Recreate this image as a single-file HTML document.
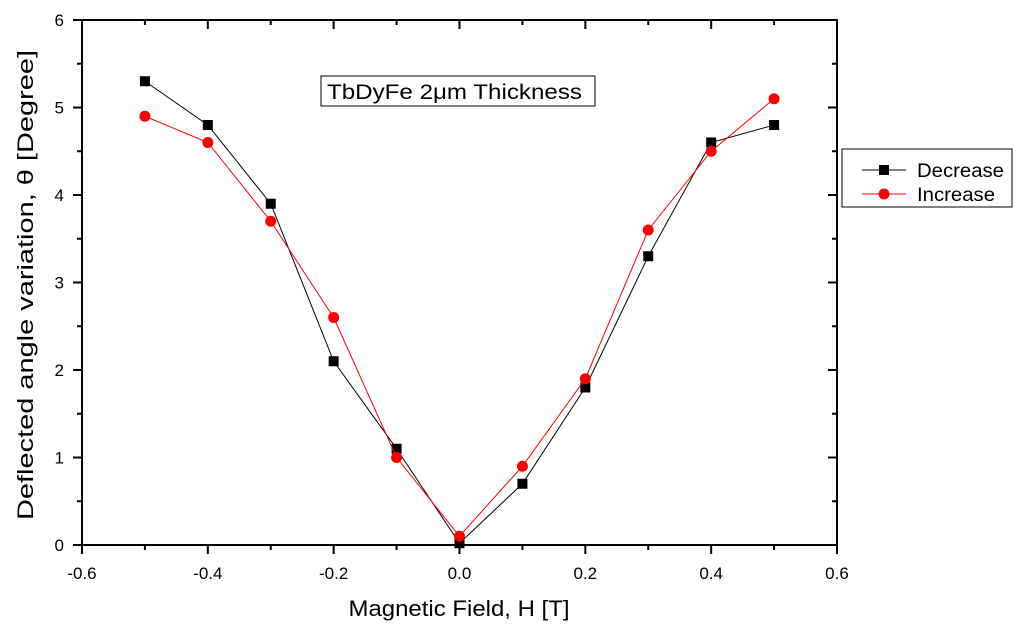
<!DOCTYPE html>
<html><head><meta charset="utf-8"><style>body{margin:0;background:#fff}svg{display:block;font-family:"Liberation Sans",sans-serif}</style></head>
<body>
<svg id="c" width="1024" height="634" viewBox="0 0 1024 634"></svg>
<script>
const xValues=[-0.5,-0.4,-0.3,-0.2,-0.1,0,0.1,0.2,0.3,0.4,0.5];
const decreaseValues=[5.3,4.8,3.9,2.1,1.1,0.02,0.7,1.8,3.3,4.6,4.8];
const increaseValues=[4.9,4.6,3.7,2.6,1.0,0.1,0.9,1.9,3.6,4.5,5.1];
const xTicks=[-0.6,-0.4,-0.2,0.0,0.2,0.4,0.6];
const yTicks=[0,1,2,3,4,5,6];
const L=82,R=837,T=20,B=545;
const xs=v=>L+(v+0.6)/1.2*(R-L);
const ys=v=>B-v/6*(B-T);
const svg=document.getElementById('c');
const NS='http://www.w3.org/2000/svg';
function mk(t,a,txt){const e=document.createElementNS(NS,t);for(const k in a)e.setAttribute(k,a[k]);if(txt!=null)e.textContent=txt;svg.appendChild(e);return e;}
let e=mk('rect',{x:L,y:T,width:R-L,height:B-T,fill:'none',stroke:'#000','stroke-width':2});


xTicks.forEach((v,i)=>{const x=xs(v);
 e=mk('line',{x1:x,y1:B,x2:x,y2:B+9,stroke:'#000','stroke-width':2});
 
 
 mk('line',{x1:x,y1:T,x2:x,y2:T+9,stroke:'#000','stroke-width':2});
 if(i<xTicks.length-1){const xm=xs(v+0.1);mk('line',{x1:xm,y1:B,x2:xm,y2:B+5,stroke:'#000','stroke-width':2});mk('line',{x1:xm,y1:T,x2:xm,y2:T+5,stroke:'#000','stroke-width':2});}
 e=mk('text',{x:x,y:B+34,'text-anchor':'middle','font-size':17,fill:'#000'},v.toFixed(1));
 
 
});
yTicks.forEach((v,i)=>{const y=ys(v);
 e=mk('line',{x1:L-9,y1:y,x2:L,y2:y,stroke:'#000','stroke-width':2});
 
 
 mk('line',{x1:R-9,y1:y,x2:R,y2:y,stroke:'#000','stroke-width':2});
 if(i<yTicks.length-1){const ym=ys(v+0.5);mk('line',{x1:L-5,y1:ym,x2:L,y2:ym,stroke:'#000','stroke-width':2});mk('line',{x1:R-5,y1:ym,x2:R,y2:ym,stroke:'#000','stroke-width':2});}
 e=mk('text',{x:L-18,y:y+6,'text-anchor':'end','font-size':17,fill:'#000'},String(v));
 
 
});
e=mk('text',{x:459,y:616,'text-anchor':'middle','font-size':22,textLength:221,lengthAdjust:'spacingAndGlyphs',fill:'#000'},'Magnetic Field, H [T]');


e=mk('text',{x:0,y:0,'text-anchor':'middle','font-size':22,textLength:470,lengthAdjust:'spacingAndGlyphs',fill:'#000',transform:'translate(33,285) rotate(-90)'},'Deflected angle variation, θ [Degree]');


function series(vals,color,name,marker){
 e=mk('polyline',{points:xValues.map((x,i)=>xs(x)+','+ys(vals[i])).join(' '),fill:'none',stroke:color,'stroke-width':1});
 
 
 xValues.forEach((x,i)=>{
  if(marker==='sq')e=mk('rect',{x:xs(x)-5,y:ys(vals[i])-5,width:10,height:10,fill:color});
  else e=mk('circle',{cx:xs(x),cy:ys(vals[i]),r:5.5,fill:color});
  
  
 });
}
series(decreaseValues,'#000','decrease','sq');
series(increaseValues,'#f00','increase','ci');
e=mk('rect',{x:321,y:76,width:274,height:30,fill:'#fff',stroke:'#000','stroke-width':1});


e=mk('text',{x:327,y:99,'font-size':21,textLength:255,lengthAdjust:'spacingAndGlyphs',fill:'#000'},'TbDyFe 2μm Thickness');


e=mk('rect',{x:842,y:149,width:170,height:58,fill:'#fff',stroke:'#000','stroke-width':1});


mk('line',{x1:862,y1:170,x2:906,y2:170,stroke:'#000','stroke-width':1});
mk('rect',{x:879,y:165,width:10,height:10,fill:'#000'});
e=mk('text',{x:917,y:177,'font-size':19,textLength:87,lengthAdjust:'spacingAndGlyphs',fill:'#000'},'Decrease');


mk('line',{x1:862,y1:194,x2:906,y2:194,stroke:'#f00','stroke-width':1});
mk('circle',{cx:884,cy:194,r:5.5,fill:'#f00'});
e=mk('text',{x:917,y:201,'font-size':19,textLength:78,lengthAdjust:'spacingAndGlyphs',fill:'#000'},'Increase');


</script>
</body></html>
